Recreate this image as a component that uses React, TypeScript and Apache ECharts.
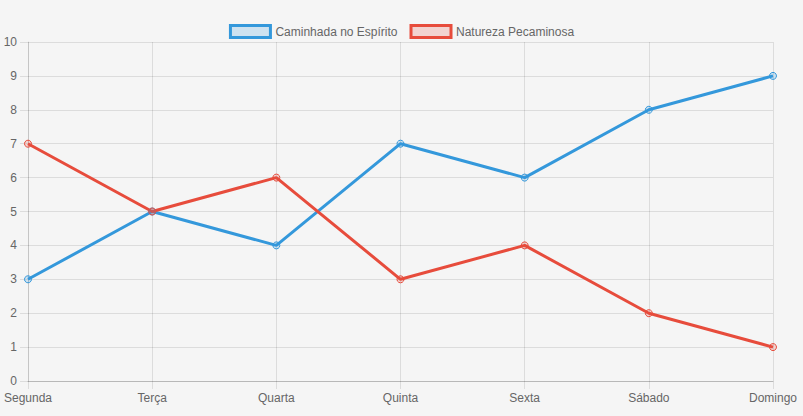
import React, { useEffect, useRef } from "react";
import * as echarts from "echarts";

const categories = ["Segunda", "Terça", "Quarta", "Quinta", "Sexta", "Sábado", "Domingo"];
const seriesNames = ["Caminhada no Espírito", "Natureza Pecaminosa"];
const spiritValues = [3, 5, 4, 7, 6, 8, 9];
const fleshValues = [7, 5, 6, 3, 4, 2, 1];

const BLUE = "#3498db";
const RED = "#e74c3c";
const BLUE_FILL = "rgba(52,152,219,0.2)";
const RED_FILL = "rgba(231,76,60,0.2)";
const FONT = "'Liberation Sans', Arial, Helvetica, sans-serif";
const GRID_COLOR = "rgba(0,0,0,0.1)";

export default function App() {
  const ref = useRef<HTMLDivElement>(null);
  useEffect(() => {
    if (!ref.current) return;
    const chart = echarts.init(ref.current, undefined, { renderer: "svg" });
    chart.setOption({
      animation: false,
      backgroundColor: "#f5f5f5",
      textStyle: { fontFamily: FONT },
      legend: {
        top: 19,
        left: "center",
        itemWidth: 40,
        itemHeight: 12,
        itemGap: 12,
        icon: "rect",
        textStyle: { color: "#666", fontSize: 12, fontFamily: FONT },
        data: [
          { name: seriesNames[0], itemStyle: { color: BLUE_FILL, borderColor: BLUE, borderWidth: 3 } },
          { name: seriesNames[1], itemStyle: { color: RED_FILL, borderColor: RED, borderWidth: 3 } },
        ],
      },
      grid: { left: 28, right: 30, top: 42, bottom: 35, containLabel: false },
      xAxis: {
        type: "category",
        data: categories,
        boundaryGap: false,
        axisLine: { show: true, lineStyle: { color: "rgba(0,0,0,0.16)", width: 1 } },
        axisTick: { show: true, length: 8, alignWithLabel: true, lineStyle: { color: GRID_COLOR } },
        axisLabel: { color: "#666", fontSize: 12, margin: 11, fontFamily: FONT },
        splitLine: { show: true, lineStyle: { color: GRID_COLOR, width: 1 } },
      },
      yAxis: {
        type: "value",
        min: 0,
        max: 10,
        interval: 1,
        axisLine: { show: true, lineStyle: { color: GRID_COLOR, width: 1 } },
        axisTick: { show: true, length: 8, lineStyle: { color: GRID_COLOR } },
        axisLabel: { color: "#666", fontSize: 12, margin: 11, fontFamily: FONT },
        splitLine: { show: true, lineStyle: { color: GRID_COLOR, width: 1 } },
      },
      series: [
        {
          name: seriesNames[0],
          type: "line",
          data: spiritValues,
          symbol: "circle",
          symbolSize: 7,
          lineStyle: { color: BLUE, width: 3 },
          itemStyle: { color: BLUE_FILL, borderColor: BLUE, borderWidth: 1 },
        },
        {
          name: seriesNames[1],
          type: "line",
          data: fleshValues,
          symbol: "circle",
          symbolSize: 7,
          lineStyle: { color: RED, width: 3 },
          itemStyle: { color: RED_FILL, borderColor: RED, borderWidth: 1 },
        },
      ],
    });
    return () => chart.dispose();
  }, []);
  return (
    <div
      ref={ref}
      style={{ position: "absolute", left: 0, top: 0, width: 803, height: 416, background: "#f5f5f5" }}
    />
  );
}
